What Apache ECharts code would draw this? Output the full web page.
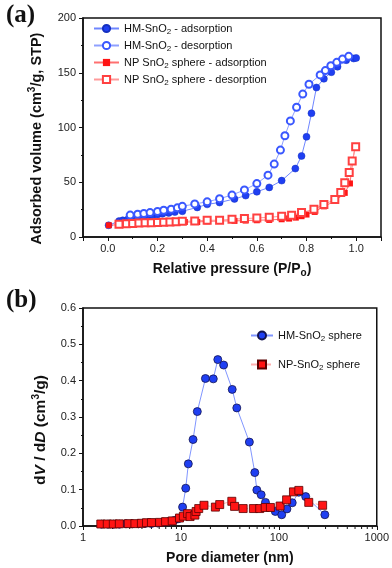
<!DOCTYPE html>
<html>
<head>
    <meta charset="utf-8">
    <title>SnO2 isotherms</title>
    <script type="text/javascript" src="https://cdn.jsdelivr.net/npm/echarts@6/dist/echarts.min.js"></script>
    <style>
        html, body { margin: 0; padding: 0; background: #fff; }
    </style>
</head>
<body>
<div id="main" style="width: 392px;height:568px;"></div>
<script type="text/javascript">
    // (a) N2 isotherms: relative pressure P/Po vs adsorbed volume
    var hmAdsP = [0.003, 0.045, 0.06, 0.08, 0.10, 0.12, 0.14, 0.16, 0.18, 0.20, 0.22, 0.245, 0.27, 0.30, 0.36, 0.40, 0.45, 0.51, 0.555, 0.60, 0.65, 0.70, 0.755, 0.78, 0.80, 0.82, 0.84, 0.87, 0.90, 0.925, 0.96, 0.99, 1.0];
    var hmAdsV = [10.7, 14.5, 15.2, 16, 16.8, 17.5, 18.2, 19, 19.8, 20.5, 21.2, 22, 22.8, 23.5, 27, 29.8, 31.5, 34.8, 37.8, 41.3, 45.3, 51.5, 62.5, 74, 91.5, 113, 136.5, 144.5, 150.5, 155.5, 161.5, 163, 163.5];
    var hmDesP = [0.09, 0.12, 0.145, 0.17, 0.20, 0.225, 0.255, 0.28, 0.30, 0.35, 0.40, 0.45, 0.50, 0.55, 0.60, 0.645, 0.67, 0.695, 0.713, 0.735, 0.76, 0.785, 0.81, 0.855, 0.876, 0.898, 0.922, 0.945, 0.97];
    var hmDesV = [20, 20.8, 21.5, 22.3, 23.4, 24.4, 25.4, 26.6, 28, 30.2, 32.1, 35, 38.3, 43, 48.8, 56.5, 66.6, 79.4, 92.5, 106, 118.5, 130.5, 139.5, 148, 152, 156.5, 159.5, 162.5, 165];
    var npAdsP = [0.004, 0.045, 0.07, 0.10, 0.13, 0.16, 0.19, 0.22, 0.25, 0.28, 0.31, 0.36, 0.40, 0.455, 0.51, 0.555, 0.60, 0.65, 0.70, 0.73, 0.757, 0.78, 0.80, 0.833, 0.87, 0.918, 0.954, 0.975, 0.986, 0.995];
    var npAdsV = [10.7, 11.3, 11.8, 12.2, 12.5, 12.8, 13, 13.2, 13.4, 13.6, 13.7, 13.7, 14.3, 14.7, 14.7, 15, 15.3, 15.6, 16.2, 16.8, 17.7, 19, 20.5, 22.9, 28, 33, 40.3, 48.9, 69, 82];
    var npDesP = [0.045, 0.075, 0.10, 0.125, 0.15, 0.175, 0.20, 0.225, 0.25, 0.275, 0.30, 0.35, 0.40, 0.45, 0.50, 0.55, 0.60, 0.65, 0.70, 0.74, 0.78, 0.83, 0.87, 0.914, 0.938, 0.954, 0.972, 0.984, 0.998];
    var npDesV = [11.6, 12, 12.4, 12.7, 12.9, 13.1, 13.3, 13.5, 13.7, 13.9, 14.3, 14.7, 15.3, 15.3, 16.2, 16.8, 17.4, 18, 19, 19.8, 22.3, 25.3, 29.6, 34.2, 40.6, 49.5, 58.9, 69.3, 82.4];

    // (b) pore size distribution: pore diameter (nm) vs dV/dD
    var hmPoreD = [1.55, 1.8, 2.05, 2.35, 2.75, 3.2, 3.7, 4.3, 5.0, 5.8, 6.6, 7.5, 8.5, 9.4, 10.4, 11.2, 11.9, 13.3, 14.7, 17.8, 21.4, 23.8, 27.3, 33.4, 37.2, 50, 56.8, 59.6, 66, 73, 92, 107, 121, 137, 160, 188, 295];
    var hmPoreV = [0.005, 0.005, 0.005, 0.005, 0.006, 0.006, 0.006, 0.007, 0.007, 0.008, 0.010, 0.012, 0.015, 0.02, 0.052, 0.104, 0.171, 0.238, 0.315, 0.406, 0.405, 0.458, 0.443, 0.376, 0.325, 0.231, 0.147, 0.099, 0.086, 0.065, 0.04, 0.031, 0.047, 0.064, 0.093, 0.081, 0.031];
    var npPoreD = [1.52, 1.77, 2.04, 2.35, 2.9, 3.39, 3.95, 4.45, 5.0, 6.06, 6.97, 8.15, 9.67, 10.6, 11.7, 12.4, 13.9, 14.3, 15.2, 17.2, 22.5, 24.9, 33.1, 35.3, 43.2, 55, 63.8, 72.5, 82, 103, 120, 141, 160, 202, 280];
    var npPoreV = [0.0055, 0.0055, 0.0055, 0.006, 0.0065, 0.0065, 0.0075, 0.009, 0.0095, 0.01, 0.012, 0.014, 0.022, 0.027, 0.034, 0.026, 0.03, 0.04, 0.048, 0.057, 0.052, 0.059, 0.068, 0.054, 0.048, 0.048, 0.048, 0.051, 0.051, 0.055, 0.072, 0.094, 0.098, 0.065, 0.057];

    // minor ticks of the log axis
    var logMinorTicks = [2, 3, 4, 5, 6, 7, 8, 9, 20, 30, 40, 50, 60, 70, 80, 90, 200, 300, 400, 500, 600, 700, 800, 900];

    function pairs(xs, ys) {
        return xs.map(function (x, i) { return [x, ys[i]]; });
    }

    var FONT = 'Liberation Sans, Arial, sans-serif';
    var INK = '#111';
    var BLUE = '#1f3ff2';
    var RED = '#ff1414';

    var subRich = {
        s: { fontSize: 8, lineHeight: 8, padding: [7, 0, 0, 0], fontFamily: FONT, color: INK }
    };

    function withSub(name) {
        return name.replace('SnO2', 'SnO{s|2}');
    }

    function axisCommon() {
        return {
            axisLine: { show: true, onZero: false, lineStyle: { color: INK, width: 1.5 } },
            axisTick: { show: true, inside: false, length: 4, lineStyle: { color: INK, width: 1 } },
            minorTick: { show: true, splitNumber: 2, length: 2, lineStyle: { color: INK, width: 1 } },
            splitLine: { show: false },
            axisLabel: { color: '#222', fontSize: 11, fontFamily: FONT },
            nameTextStyle: { color: INK, fontSize: 14, fontWeight: 'bold', fontFamily: FONT }
        };
    }

    var myChart = echarts.init(document.getElementById('main'));

    var xA = axisCommon();
    xA.gridIndex = 0;
    xA.type = 'value';
    xA.min = -0.1;
    xA.max = 1.1;
    xA.splitNumber = 5;
    xA.axisLabel.margin = 6;
    xA.axisLabel.showMinLabel = false;
    xA.axisLabel.showMaxLabel = false;
    xA.axisLabel.formatter = function (v) {
        var k = Math.round(v * 10);
        return (k % 2 === 0 && k >= 0 && k <= 10) ? (k / 10).toFixed(1) : '';
    };
    xA.name = 'Relative pressure (P/P{s|o})';
    xA.nameLocation = 'middle';
    xA.nameGap = 25;
    xA.nameTextStyle.rich = { s: { fontSize: 10, fontWeight: 'bold', lineHeight: 10, padding: [9, 0, 0, 0], fontFamily: FONT, color: INK } };

    var yA = axisCommon();
    yA.gridIndex = 0;
    yA.type = 'value';
    yA.min = 0;
    yA.max = 200;
    yA.interval = 50;
    yA.axisLabel.margin = 7;
    yA.name = 'Adsorbed volume (cm{p|3}/g, STP)';
    yA.nameLocation = 'middle';
    yA.nameGap = 34;
    yA.nameTextStyle.fontSize = 14.5;
    yA.nameTextStyle.padding = [0, 22, 0, 0];
    yA.nameTextStyle.rich = { p: { fontSize: 10, fontWeight: 'bold', lineHeight: 10, padding: [0, 0, 9, 0], fontFamily: FONT, color: INK } };

    var xB = axisCommon();
    xB.gridIndex = 1;
    xB.type = 'log';
    xB.logBase = 10;
    xB.min = 1;
    xB.max = 1000;
    xB.minorTick = { show: false };
    xB.axisLabel.margin = 6;
    xB.axisLabel.formatter = function (v) { return String(Math.round(v)); };
    xB.name = 'Pore diameter (nm)';
    xB.nameLocation = 'middle';
    xB.nameGap = 25;

    var yB = axisCommon();
    yB.gridIndex = 1;
    yB.type = 'value';
    yB.min = 0;
    yB.max = 0.6;
    yB.interval = 0.1;
    yB.axisLabel.margin = 7;
    yB.axisLabel.formatter = function (v) { return v.toFixed(1); };
    yB.name = '{n|d}{i|V}{n| / d}{i|D}{n| (cm}{p|3}{n|/g)}';
    yB.nameLocation = 'middle';
    yB.nameGap = 34;
    yB.nameTextStyle.padding = [0, 26, 0, 0];
    yB.nameTextStyle.rich = {
        n: { fontSize: 15.5, fontWeight: 'bold', fontFamily: FONT, color: INK },
        i: { fontSize: 15.5, fontWeight: 'bold', fontStyle: 'italic', fontFamily: FONT, color: INK },
        p: { fontSize: 10, fontWeight: 'bold', lineHeight: 10, padding: [0, 0, 9, 0], fontFamily: FONT, color: INK }
    };

    var option = {
        backgroundColor: '#fff',
        animation: false,
        title: [
            { text: '(a)', left: 1, top: -2, textStyle: { fontFamily: 'Liberation Serif, Times New Roman, serif', fontWeight: 'bold', fontSize: 25, color: INK } },
            { text: '(b)', left: 1, top: 283, textStyle: { fontFamily: 'Liberation Serif, Times New Roman, serif', fontWeight: 'bold', fontSize: 25, color: INK } }
        ],
        grid: [
            { left: 83, right: 11, top: 18, height: 219, show: true, borderColor: INK, borderWidth: 1.5, backgroundColor: 'transparent' },
            { left: 83, right: 11, top: 308, height: 218, show: true, borderColor: INK, borderWidth: 1.5, backgroundColor: 'transparent' }
        ],
        legend: [
            {
                orient: 'vertical', left: 88, top: 16, itemWidth: 25, itemHeight: 9, itemGap: 2,
                textStyle: { fontSize: 11, fontFamily: FONT, color: INK, lineHeight: 13, rich: subRich },
                formatter: withSub,
                data: ['HM-SnO2 - adsorption', 'HM-SnO2 - desorption', 'NP SnO2 sphere - adsorption', 'NP SnO2 sphere - desorption']
            },
            {
                orient: 'vertical', left: 245, top: 323, itemWidth: 22, itemHeight: 10, itemGap: 14,
                textStyle: { fontSize: 11, fontFamily: FONT, color: INK, lineHeight: 13, rich: subRich },
                formatter: withSub,
                data: ['HM-SnO2 sphere', 'NP-SnO2 sphere']
            }
        ],
        xAxis: [xA, xB],
        yAxis: [yA, yB],
        series: [
            {
                name: 'HM-SnO2 - adsorption', type: 'line', xAxisIndex: 0, yAxisIndex: 0,
                data: pairs(hmAdsP, hmAdsV),
                symbol: 'circle', symbolSize: 7,
                itemStyle: { color: BLUE, borderColor: '#1530c0', borderWidth: 0.5 },
                lineStyle: { color: '#6f86ff', width: 1 }
            },
            {
                name: 'HM-SnO2 - desorption', type: 'line', xAxisIndex: 0, yAxisIndex: 0,
                data: pairs(hmDesP, hmDesV),
                symbol: 'emptyCircle', symbolSize: 7,
                itemStyle: { color: '#3a58ff', borderWidth: 1.2 },
                lineStyle: { color: '#8fa0ff', width: 1 }
            },
            {
                name: 'NP SnO2 sphere - adsorption', type: 'line', xAxisIndex: 0, yAxisIndex: 0,
                data: pairs(npAdsP, npAdsV),
                symbol: 'rect', symbolSize: 6,
                itemStyle: { color: RED },
                lineStyle: { color: '#ff7070', width: 1 }
            },
            {
                name: 'NP SnO2 sphere - desorption', type: 'line', xAxisIndex: 0, yAxisIndex: 0,
                data: pairs(npDesP, npDesV),
                symbol: 'emptyRect', symbolSize: 7,
                itemStyle: { color: '#ff4040', borderWidth: 1.2 },
                lineStyle: { color: '#ff9a9a', width: 1 }
            },
            {
                name: 'HM-SnO2 sphere', type: 'line', xAxisIndex: 1, yAxisIndex: 1,
                data: pairs(hmPoreD, hmPoreV),
                symbol: 'circle', symbolSize: 8,
                itemStyle: { color: BLUE, borderColor: '#141450', borderWidth: 0.8 },
                lineStyle: { color: '#8196ff', width: 1 }
            },
            {
                name: 'NP-SnO2 sphere', type: 'line', xAxisIndex: 1, yAxisIndex: 1,
                data: pairs(npPoreD, npPoreV),
                symbol: 'rect', symbolSize: 8,
                itemStyle: { color: RED, borderColor: '#5a0000', borderWidth: 0.8 },
                lineStyle: { color: '#ffb0b0', width: 1, type: 'dashed' }
            },
            {
                // minor ticks for the log axis
                type: 'custom', xAxisIndex: 1, yAxisIndex: 1, silent: true, clip: false,
                data: logMinorTicks.map(function (v) { return [v, 0]; }),
                renderItem: function (params, api) {
                    var p = api.coord([api.value(0), 0]);
                    return {
                        type: 'line',
                        shape: { x1: p[0], y1: p[1] + 0.75, x2: p[0], y2: p[1] + 3 },
                        style: { stroke: INK, lineWidth: 1 }
                    };
                }
            }
        ]
    };
    myChart.setOption(option);
</script>
</body>
</html>
